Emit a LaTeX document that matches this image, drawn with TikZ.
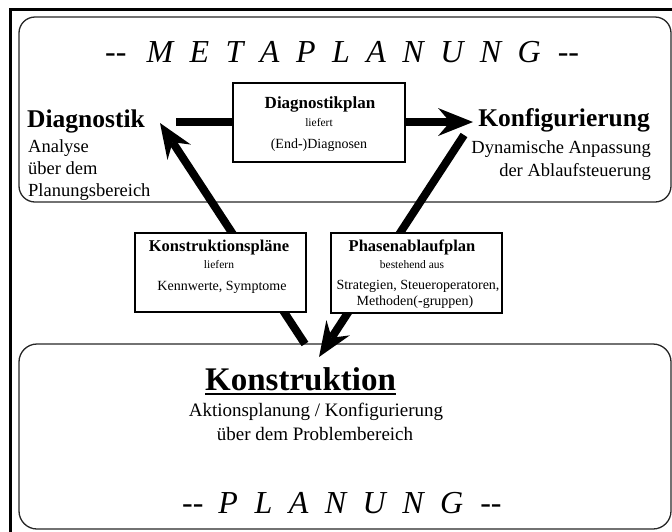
\documentclass[tikz,border=0pt]{standalone}
\usepackage{fontspec}
\setmainfont{Liberation Serif}
\usetikzlibrary{arrows.meta}
\newcommand{\fs}[1]{\fontsize{#1}{#1}\selectfont}
\newcommand{\gp}{\hspace{16.5pt}}
\begin{document}
\begin{tikzpicture}[x=1pt,y=-1pt,
  bigbox/.style={draw=black!85, line width=1.3pt, rounded corners=16pt, inner sep=0pt},
  smallbox/.style={draw=black, line width=1.2pt, fill=white, inner sep=0pt},
  flow/.style={line width=8pt, -{Stealth[length=35pt,width=28pt,inset=12pt,line width=0pt]}},
  txt/.style={inner sep=0pt, anchor=base},
  txtw/.style={inner sep=0pt, anchor=base west},
  txte/.style={inner sep=0pt, anchor=base east},
  ttl/.style={txt, font=\fs{16.5}\bfseries},
  sml/.style={txt, font=\fs{11.5}},
  bdy/.style={txt, font=\fs{14}},
  mid/.style={font=\fs{18.5}},
]
\useasboundingbox (0,0) rectangle (672,531);
% outer frame (only top and left edges visible)
\draw[line width=3pt] (10.5,9.5) rectangle (720,580);
% two planning regions
\node[bigbox, minimum width=652pt, minimum height=185pt] (meta) at (345,109.5) {};
\node[bigbox, rounded corners=18pt, minimum width=652pt, minimum height=185pt] (plan) at (345,436.5) {};
% titles
\node[txtw, font=\fs{32}\itshape] (metat) at (105,62)
  {-{}-\hspace{20pt}M\gp E\gp T\gp A\gp P\gp L\gp A\gp N\gp U\gp N\gp G\hspace{17pt}-{}-};
\node[txtw, font=\fs{32}\itshape] (plant) at (182,513)
  {-{}-\hspace{15pt}P\gp L\gp A\gp N\gp U\gp N\gp G\hspace{17pt}-{}-};
% Diagnostik
\node[txtw, font=\fs{25.5}\bfseries] (diag) at (27,127) {Diagnostik};
\node[txtw, mid] (d1) at (28,152) {Analyse};
\node[txtw, mid] (d2) at (28,174) {über dem};
\node[txtw, mid] (d3) at (28,196) {Planungsbereich};
% Konfigurierung
\node[txte, font=\fs{25.5}\bfseries] (konf) at (650,126) {Konfigurierung};
\node[txte, mid] (k1) at (651,153) {Dynamische Anpassung};
\node[txte, mid] (k2) at (651,176) {der Ablaufsteuerung};
% Konstruktion
\node[txtw, font=\fs{33}\bfseries] (konst) at (205,390) {Konstruktion};
\draw[line width=2pt] ([yshift=-4pt]konst.base west) -- ([yshift=-4pt]konst.base east);
\node[txt, font=\fs{19}] (c1) at (316,416) {Aktionsplanung / Konfigurierung};
\node[txt, font=\fs{19}] (c2) at (315,440) {über dem Problembereich};
% connector end points
\coordinate (h0) at (176,122);
\coordinate (h1) at (473,122);
\coordinate (l0) at (305,344);
\coordinate (l1) at (160,123);
\coordinate (r0) at (464,135);
\coordinate (r1) at (319,357);
\draw[flow] (h0) -- (h1);
\draw[flow] (l0) -- (l1);
\draw[flow] (r0) -- (r1);
% plan boxes
\node[smallbox, minimum width=172pt, minimum height=79pt] (dplan) at (319,122.5) {};
\node[txt, font=\fs{17}\bfseries] (dp1) at (320,108) {Diagnostikplan};
\node[sml] (dp2) at (319,126) {liefert};
\node[bdy] (dp3) at (319,148) {(End\textbf{-})Diagnosen};
\node[smallbox, minimum width=171pt, minimum height=79pt] (kplan) at (220.5,272.5) {};
\node[ttl] (kp1) at (219,251) {Konstruktionspläne};
\node[sml] (kp2) at (219,268) {liefern};
\node[bdy] (kp3) at (222,290) {Kennwerte, Symptome};
\node[smallbox, minimum width=171pt, minimum height=80pt] (pplan) at (416.5,273) {};
\node[ttl] (pp1) at (412,251) {Phasenablaufplan};
\node[sml] (pp2) at (412,268) {bestehend aus};
\node[bdy] (pp3) at (418,289) {Strategien, Steueroperatoren,};
\node[bdy] (pp4) at (415,305) {Methoden(\textbf{-}gruppen)};
\end{tikzpicture}
\end{document}
